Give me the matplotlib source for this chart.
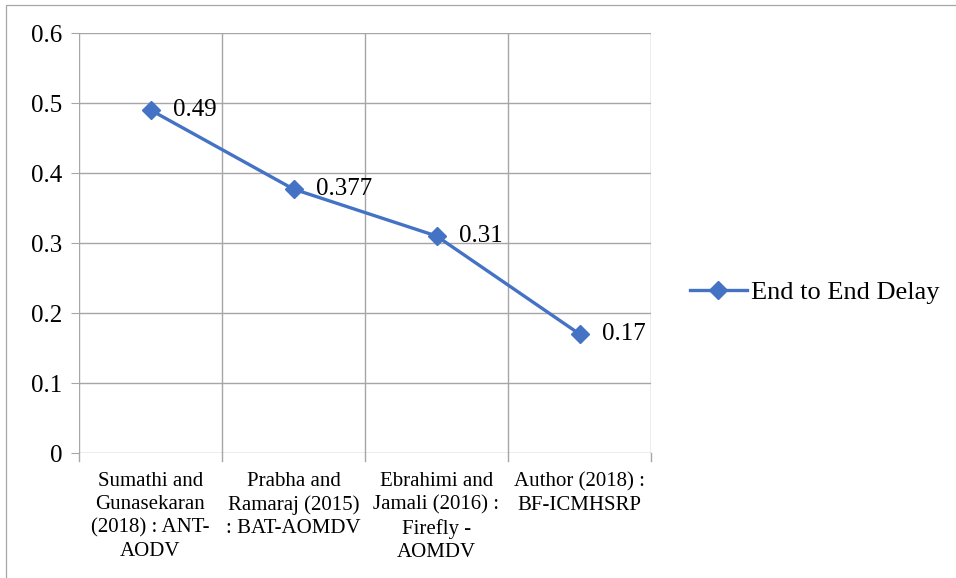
import matplotlib.pyplot as plt
from matplotlib.lines import Line2D
from matplotlib.patches import Rectangle

plt.rcParams['font.family'] = ['Liberation Serif', 'DejaVu Serif']

categories = ["Sumathi and\nGunasekaran\n(2018) : ANT-\nAODV",
              "Prabha and\nRamaraj (2015)\n: BAT-AOMDV",
              "Ebrahimi and\nJamali (2016) :\nFirefly -\nAOMDV",
              "Author (2018) :\nBF-ICMHSRP"]
delay = [0.49, 0.377, 0.31, 0.17]
delay_labels = ["0.49", "0.377", "0.31", "0.17"]
yticks = [0, 0.1, 0.2, 0.3, 0.4, 0.5, 0.6]

W, H = 956, 578
fig = plt.figure(figsize=(W / 100, H / 100), dpi=100)
# outer chart frame
fig.add_artist(Rectangle((6 / W, -0.01), 1.2, 1 - 4.5 / H + 0.01, transform=fig.transFigure,
                         fill=False, edgecolor='#A6A6A6', linewidth=0.9))

ax = fig.add_axes([79 / W, 1 - 453 / H, (651 - 79) / W, (453 - 33) / H])
x = list(range(len(delay)))
blue = '#4472C4'
grid = '#A6A6A6'

ax.plot(x, delay, color=blue, linewidth=2.4, marker='D', markersize=9,
        markerfacecolor=blue, markeredgecolor=blue)
for xi, yi, lab in zip(x, delay, delay_labels):
    ax.annotate(lab, (xi, yi), xytext=(16, 0), textcoords='offset points',
                ha='left', va='center', fontsize=18)

ax.set_xlim(-0.5, len(delay) - 0.5)
ax.set_ylim(0, 0.6)
ax.set_yticks(yticks)
ax.set_yticklabels([f"{v:g}" for v in yticks], fontsize=18)
ax.set_xticks(x)
ax.set_xticklabels(categories, fontsize=15, linespacing=1.28)
ax.tick_params(axis='x', length=0, pad=14)
ax.tick_params(axis='y', length=6, color=grid, pad=6)

# category boundaries as vertical gridlines with ticks below the axis
bounds = [i - 0.5 for i in range(len(delay) + 1)]
for b in bounds:
    ax.axvline(b, color=grid, linewidth=1.0, zorder=0)
    ax.plot([b, b], [0, -0.012], color=grid, linewidth=1.0, clip_on=False)
for v in yticks:
    ax.axhline(v, color=grid, linewidth=1.0, zorder=0)
for s in ax.spines.values():
    s.set_visible(False)

handle = Line2D([], [], color=blue, linewidth=2.4, marker='D', markersize=9)
fig.legend([handle], ["End to End Delay"], loc='center left',
           bbox_to_anchor=(690 / W, 1 - 292 / H), frameon=False, fontsize=19,
           handlelength=2.15, handletextpad=0.15, borderpad=0, borderaxespad=0)

fig.savefig('out.png', dpi=100)
